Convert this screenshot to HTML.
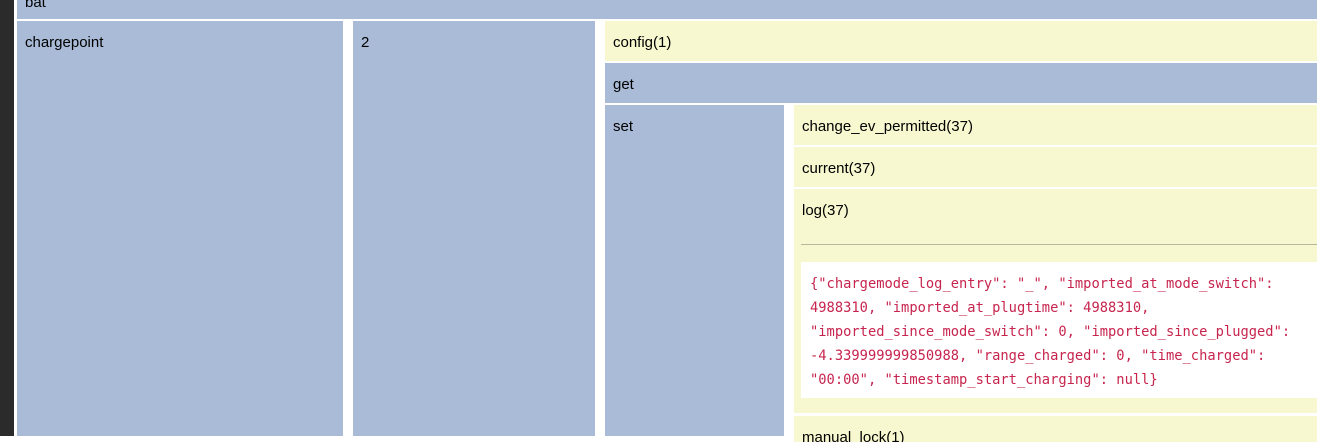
<!DOCTYPE html>
<html><head><meta charset="utf-8"><style>
html,body{margin:0;padding:0;width:1317px;height:436px;overflow:hidden;background:#fff;font-family:"Liberation Sans",Arial,sans-serif;font-size:15px;color:#000}
.b{position:absolute;background:#a9bbd6;box-sizing:border-box;padding:11px 8px;line-height:18px}
.y{position:absolute;background:#f8f8d0;box-sizing:border-box;padding:13px 8px;line-height:18px}
#dark{position:absolute;left:0;top:0;width:14px;height:436px;background:#2b2b2b}
pre{position:absolute;left:801px;top:262px;width:516px;height:136px;margin:0;background:#fff;box-sizing:border-box;padding:10px 9px;font-family:"DejaVu Sans Mono","Liberation Mono",monospace;font-size:13.75px;line-height:24px;color:#c7254e;white-space:pre;overflow:hidden}
hr{position:absolute;left:801px;top:244px;width:516px;margin:0;border:0;border-top:1px solid #b7b7a0}
</style></head><body>
<div id="dark"></div>
<div class="b" style="left:17px;top:-15px;width:1300px;height:34px;padding-top:9px">bat</div>
<div class="b" style="left:17px;top:21px;width:326px;height:415px;padding-top:13px">chargepoint</div>
<div class="b" style="left:353px;top:21px;width:242px;height:415px;padding-top:13px">2</div>
<div class="y" style="left:605px;top:21px;width:712px;height:40px">config(1)</div>
<div class="b" style="left:605px;top:63px;width:712px;height:40px;padding-top:13px">get</div>
<div class="b" style="left:605px;top:105px;width:179px;height:331px;padding-top:13px">set</div>
<div class="y" style="left:794px;top:105px;width:523px;height:40px">change_ev_permitted(37)</div>
<div class="y" style="left:794px;top:147px;width:523px;height:40px">current(37)</div>
<div class="y" style="left:794px;top:189px;width:523px;height:224px">log(37)</div>
<hr>
<pre>{"chargemode_log_entry": "_", "imported_at_mode_switch":
4988310, "imported_at_plugtime": 4988310,
"imported_since_mode_switch": 0, "imported_since_plugged":
-4.339999999850988, "range_charged": 0, "time_charged":
"00:00", "timestamp_start_charging": null}</pre>
<div class="y" style="left:794px;top:416px;width:523px;height:20px;overflow:hidden">manual_lock(1)</div>
</body></html>
